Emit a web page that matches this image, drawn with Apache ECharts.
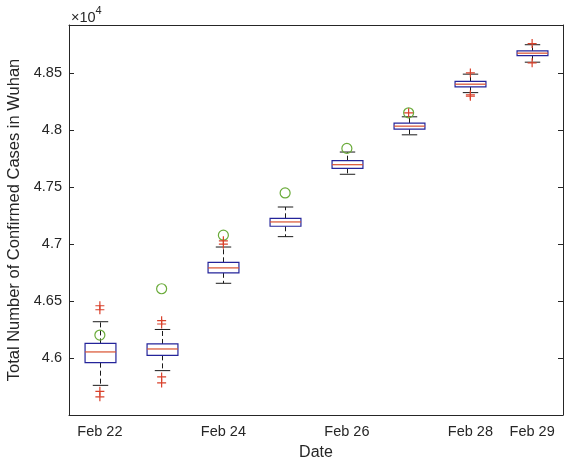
<!DOCTYPE html>
<html>
<head>
<meta charset="utf-8">
<title>Confirmed Cases in Wuhan</title>
<script src="https://cdn.jsdelivr.net/npm/echarts@6/dist/echarts.min.js"></script>
<style>
  html, body { margin: 0; padding: 0; background: #ffffff; }
  #chart { width: 570px; height: 466px; }
</style>
</head>
<body>
<div id="chart"></div>
<script>
// Dates on the horizontal axis and the ones that carry a label
const dates = ['Feb 22', 'Feb 23', 'Feb 24', 'Feb 25', 'Feb 26', 'Feb 27', 'Feb 28', 'Feb 29'];
const tickLabels = ['Feb 22', 'Feb 24', 'Feb 26', 'Feb 28', 'Feb 29'];

// Box statistics per date (total confirmed cases)
const lowerWhisker = [45760, 45889, 46655, 47064, 47611, 47957, 48327, 48594];
const q1           = [45959, 46023, 46747, 47155, 47663, 48007, 48378, 48652];
const median       = [46053, 46079, 46790, 47193, 47695, 48033, 48401, 48673];
const q3           = [46128, 46123, 46839, 47225, 47730, 48060, 48425, 48693];
const upperWhisker = [46318, 46250, 46973, 47324, 47806, 48115, 48489, 48747];

// Outliers: [date index, value]
const outliers = [
  [0, 46458], [0, 46423], [0, 45708], [0, 45659],
  [1, 46327], [1, 46298], [1, 45834], [1, 45781],
  [2, 47027], [2, 46998],
  [5, 48150],
  [6, 48500], [6, 48308], [6, 48295],
  [7, 48757], [7, 48588]
];

// Reported totals (green circles)
const reported = [46201, 46607, 47077, 47447, 47838, 48150];
const reportedIdx = [0, 1, 2, 3, 4, 5];

// Y-axis range and step
const yMin = 45500, yMax = 48920, yStep = 500;

const textColor = '#262626';
const fontFamily = 'Arial, "Liberation Sans", Helvetica, sans-serif';

const boxData = dates.map((d, i) => [i, lowerWhisker[i], q1[i], median[i], q3[i], upperWhisker[i]]);
const reportedData = reportedIdx.map((idx, k) => [idx, reported[k]]);

function renderBox(params, api) {
  const x = api.value(0);
  const pLw = api.coord([x, api.value(1)]);
  const pQ1 = api.coord([x, api.value(2)]);
  const pMed = api.coord([x, api.value(3)]);
  const pQ3 = api.coord([x, api.value(4)]);
  const pUw = api.coord([x, api.value(5)]);
  const bandW = api.size([1, 0])[0];
  const half = bandW * 0.25;
  const capHalf = half * 0.5;
  const cx = Math.round(pMed[0]) + 0.5;
  const whiskerStyle = { stroke: '#1a1a1a', lineWidth: 1, lineDash: [5, 3], fill: null };
  const capStyle = { stroke: '#1a1a1a', lineWidth: 1, fill: null };
  return {
    type: 'group',
    children: [
      { type: 'line', shape: { x1: cx, y1: pQ3[1], x2: cx, y2: pUw[1] }, style: whiskerStyle },
      { type: 'line', shape: { x1: cx, y1: pQ1[1], x2: cx, y2: pLw[1] }, style: whiskerStyle },
      { type: 'line', shape: { x1: cx - capHalf, y1: pUw[1], x2: cx + capHalf, y2: pUw[1] }, style: capStyle },
      { type: 'line', shape: { x1: cx - capHalf, y1: pLw[1], x2: cx + capHalf, y2: pLw[1] }, style: capStyle },
      { type: 'rect', shape: { x: cx - half, y: pQ3[1], width: half * 2, height: pQ1[1] - pQ3[1] },
        style: { stroke: '#24249a', lineWidth: 1.2, fill: '#ffffff' } },
      { type: 'line', shape: { x1: cx - half, y1: pMed[1], x2: cx + half, y2: pMed[1] },
        style: { stroke: '#d9502e', lineWidth: 1.2, fill: null } }
    ]
  };
}

const chart = echarts.init(document.getElementById('chart'), null, { renderer: 'canvas' });

const axisLineStyle = { color: textColor, width: 1 };

chart.setOption({
  animation: false,
  backgroundColor: '#ffffff',
  grid: { left: 69, right: 7, top: 25, bottom: 51, containLabel: false, outerBoundsMode: 'none' },
  xAxis: [
    {
      type: 'category',
      data: dates,
      boundaryGap: true,
      name: 'Date',
      nameLocation: 'middle',
      nameGap: 30,
      nameTextStyle: { color: textColor, fontSize: 16, fontFamily: fontFamily, verticalAlign: 'top' },
      axisLine: { lineStyle: axisLineStyle },
      axisTick: { inside: true, alignWithLabel: true, length: 5, lineStyle: axisLineStyle },
      axisLabel: {
        interval: 0, margin: 9, color: textColor, fontSize: 14.5, fontFamily: fontFamily,
        formatter: v => (tickLabels.indexOf(v) >= 0 ? v : '')
      },
      splitLine: { show: false }
    },
    {
      type: 'category',
      data: dates,
      position: 'top',
      boundaryGap: true,
      axisLine: { lineStyle: axisLineStyle },
      axisTick: { inside: true, alignWithLabel: true, length: 5, lineStyle: axisLineStyle },
      axisLabel: { show: false },
      splitLine: { show: false }
    }
  ],
  yAxis: [
    {
      type: 'value',
      min: yMin, max: yMax, interval: yStep,
      name: 'Total Number of Confirmed Cases in Wuhan',
      nameLocation: 'middle',
      nameGap: 43,
      nameTextStyle: { color: textColor, fontSize: 16.5, fontFamily: fontFamily },
      axisLine: { show: true, lineStyle: axisLineStyle },
      axisTick: { show: true, inside: true, length: 5, lineStyle: axisLineStyle },
      axisLabel: {
        margin: 7, color: textColor, fontSize: 14.5, fontFamily: fontFamily,
        showMaxLabel: false,
        formatter: v => {
          if (v <= yMin || (v - yMin) % yStep !== 0) return '';
          return String(+(v / 10000).toFixed(2));
        }
      },
      splitLine: { show: false }
    },
    {
      type: 'value',
      position: 'right',
      min: yMin, max: yMax, interval: yStep,
      axisLine: { show: true, lineStyle: axisLineStyle },
      axisTick: { show: true, inside: true, length: 5, lineStyle: axisLineStyle },
      axisLabel: { show: false },
      splitLine: { show: false }
    }
  ],
  graphic: [
    {
      type: 'text',
      left: 71,
      top: 5,
      style: {
        text: '{a|×10}{b|4}',
        rich: {
          a: { fontSize: 14.5, lineHeight: 20, verticalAlign: 'bottom', fill: textColor, fontFamily: fontFamily },
          b: { fontSize: 11, lineHeight: 20, verticalAlign: 'top', fill: textColor, fontFamily: fontFamily }
        }
      }
    }
  ],
  series: [
    {
      type: 'custom',
      name: 'box',
      xAxisIndex: 0,
      yAxisIndex: 0,
      renderItem: renderBox,
      encode: { x: 0, y: [1, 2, 3, 4, 5] },
      data: boxData,
      z: 2
    },
    {
      type: 'scatter',
      name: 'reported',
      xAxisIndex: 0,
      yAxisIndex: 0,
      symbol: 'circle',
      symbolSize: 10,
      itemStyle: { color: 'rgba(0,0,0,0)', borderColor: '#6aab3a', borderWidth: 1.2, opacity: 1 },
      data: reportedData,
      z: 3
    },
    {
      type: 'scatter',
      name: 'outliers',
      xAxisIndex: 0,
      yAxisIndex: 0,
      symbol: 'path://M0,5L10,5M5,0L5,10',
      symbolSize: 9,
      itemStyle: { color: 'rgba(0,0,0,0)', borderColor: '#d9412b', borderWidth: 1.2, opacity: 1 },
      data: outliers,
      z: 4
    }
  ]
});
</script>
</body>
</html>
